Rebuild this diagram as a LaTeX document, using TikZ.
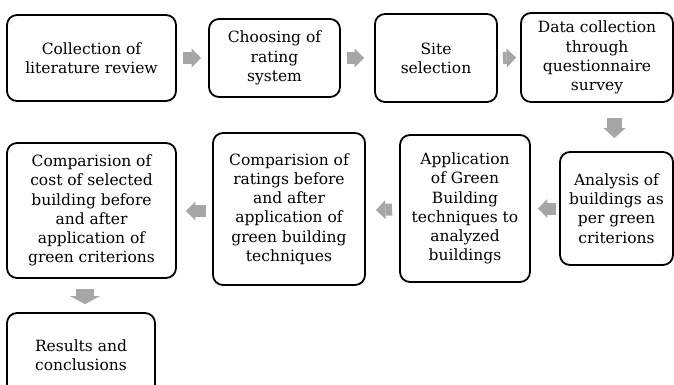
\documentclass[tikz,border=0pt]{standalone}
\usepackage{fontspec}
\setmainfont{DejaVu Serif}
\usetikzlibrary{positioning,calc,arrows.meta}
\definecolor{arrowgray}{RGB}{166,166,166}

\begin{document}
\begin{tikzpicture}[x=1pt,y=-1pt,
    stepbox/.style={rectangle,rounded corners=10pt,draw,line width=1.8pt,align=center,inner sep=2pt,font=\fontsize{15.5}{19.2}\selectfont},
    flow/.style={draw=arrowgray,line width=12pt,-{Triangle[length=9.5pt,width=19pt,line width=0pt]}},
    flowdown/.style={draw=arrowgray,line width=15pt,-{Triangle[length=10pt,width=22pt,line width=0pt]}}]

\useasboundingbox (0,0) rectangle (674,385);
\clip (0,0) rectangle (674,385);

% First row
\node[stepbox,minimum width=169pt,minimum height=86pt] (lit) at (91.5,58) {Collection of\\literature review};
\node[stepbox,minimum width=131pt,minimum height=78pt] (rating) at (274.5,58) {Choosing of\\rating\\system};
\node[stepbox,minimum width=122pt,minimum height=88pt] (site) at (436,58) {Site\\selection};
\node[stepbox,minimum width=152pt,minimum height=89pt] (survey) at (597,57.5) {Data collection\\through\\questionnaire\\survey};

% Second row
\node[stepbox,minimum width=113pt,minimum height=113pt] (analysis) at (616.5,208.5) {Analysis of\\buildings as\\per green\\criterions};
\node[stepbox,minimum width=130pt,minimum height=147pt] (apply) at (465,208.5) {Application\\of Green\\Building\\techniques to\\analyzed\\buildings};
\node[stepbox,minimum width=152pt,minimum height=152pt] (ratings) at (289,209) {Comparision of\\ratings before\\and after\\application of\\green building\\techniques};
\node[stepbox,minimum width=169pt,minimum height=135pt] (cost) at (91.5,210.5) {Comparision of\\cost of selected\\building before\\and after\\application of\\green criterions};

% Last step
\node[stepbox,minimum width=148pt,minimum height=84pt] (results) at (81,355) {Results and\\conclusions};

% Arrows
\draw[flow] ($(lit.east)+(6,0)$) -- ($(rating.west)+(-7,0)$);
\draw[flow] ($(rating.east)+(6,0)$) -- ($(site.west)+(-10,0)$);
\draw[flow] ($(site.east)+(5,0)$) -- ($(survey.west)+(-4,0)$);
\draw[flowdown] ($(survey.south -| analysis.north)+(-2,15)$) -- ($(analysis.north)+(-2,-13)$);
\draw[flow] ($(analysis.west)+(-3,0)$) -- ($(apply.east)+(7,0)$);
\draw[flow] ($(apply.west)+(-7,1)$) -- ($(ratings.east)+(10,1)$);
\draw[flow] ($(ratings.west)+(-6,2)$) -- ($(cost.east)+(9,0.5)$);
\draw[flowdown,line width=18pt,-{Triangle[length=8pt,width=30pt,line width=0pt]}] ($(cost.south)+(-6.5,10)$) -- ($(results.north)+(4,-8)$);

\end{tikzpicture}
\end{document}
